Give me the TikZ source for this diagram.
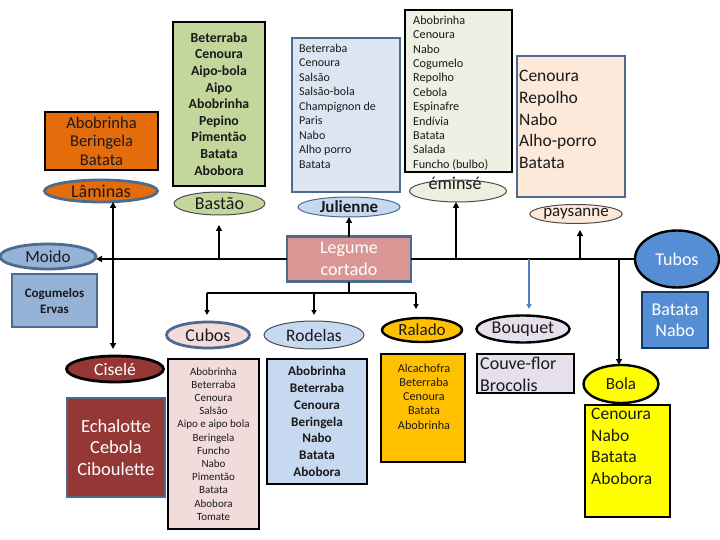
\documentclass[tikz,border=0pt]{standalone}
\usepackage{fontspec}
\setmainfont{Carlito}
\usetikzlibrary{arrows.meta,shapes.geometric}
\definecolor{txt}{HTML}{1A1A1A}
\definecolor{orangeC}{HTML}{E46C0A}
\definecolor{bordB}{HTML}{4F6A8F}
\definecolor{greenC}{HTML}{C3D69B}
\definecolor{julBox}{HTML}{DCE6F2}
\definecolor{julEl}{HTML}{C6D9F1}
\definecolor{emiBox}{HTML}{EEF0E3}
\definecolor{emiEl}{HTML}{EBF1DE}
\definecolor{payC}{HTML}{FDE9D9}
\definecolor{legC}{HTML}{D99694}
\definecolor{moiC}{HTML}{95B3D7}
\definecolor{tubC}{HTML}{558ED5}
\definecolor{navyB}{HTML}{17375E}
\definecolor{cubC}{HTML}{F2DCDB}
\definecolor{ralC}{HTML}{FFC000}
\definecolor{bouC}{HTML}{E6E0EC}
\definecolor{redC}{HTML}{953735}
\definecolor{bolaC}{HTML}{FFFF00}
\definecolor{steel}{HTML}{4F81BD}
\newcommand\myfs[2]{\fontsize{#1}{#2}\selectfont}
\begin{document}
\begin{tikzpicture}[x=1pt,y=-1pt,
  bx/.style={draw, anchor=north west, inner sep=0pt, outer sep=0pt, text=txt, align=center},
  el/.style={ellipse, draw, inner sep=0pt, outer sep=0pt, text=txt},
  thk/.style={line width=2.8pt},
  thn/.style={line width=1pt},
  ml/.style={line width=2.4pt, -{Triangle[length=6pt,width=6pt]}},
  ml0/.style={line width=2.4pt},
  sl/.style={line width=1.6pt, -{Triangle[length=5pt,width=5pt]}},
  sl0/.style={line width=1.6pt},
  lst/.style={inner sep=0pt, text=txt}
]
\useasboundingbox[fill=white] (0,0) rectangle (720,540);

% ---------- top row ----------
\node[bx, thk, fill=orangeC, minimum width=113, minimum height=58, font=\myfs{16.5}{18.5}] (orbox) at (45,112) {Abobrinha\\Beringela\\Batata};
\node[el, draw=bordB, thk, fill=orangeC, minimum width=113, minimum height=22, font=\myfs{18}{18}] (lam) at (101,191) {Lâminas};

\node[bx, thk, fill=greenC, minimum width=92, minimum height=164, font=\myfs{13.8}{16.6}\bfseries] (basbox) at (173,22) {Beterraba\\Cenoura\\Aipo-bola\\Aipo\\Abobrinha\\Pepino\\Pimentão\\Batata\\Abobora};
\node[el, thn, draw=black!70, fill=greenC, minimum width=91, minimum height=23, font=\myfs{18}{18}] (bas) at (219.5,203.5) {Bastão};

\node[bx, thk, draw=bordB, fill=julBox, minimum width=108, minimum height=154] (julbox) at (292,38) {};
\node[lst, anchor=west, align=left, font=\myfs{12}{14.5}] (jultxt) at (299,106) {Beterraba\\Cenoura\\Salsão\\Salsão-bola\\Champignon de\\Paris\\Nabo\\Alho porro\\Batata};
\node[el, thn, draw=bordB, fill=julEl, minimum width=102, minimum height=20, font=\myfs{17}{18}\bfseries] (jul) at (349,207) {Julienne};

\node[el, thn, draw=black!70, fill=emiEl, minimum width=97, minimum height=22] (emi) at (458,191) {};
\node[bx, thk, fill=emiBox, minimum width=107, minimum height=162] (emibox) at (405,10) {};
\node[lst, anchor=west, align=left, font=\myfs{12.2}{14.4}] (emitxt) at (413,93) {Abobrinha\\Cenoura\\Nabo\\Cogumelo\\Repolho\\Cebola\\Espinafre\\Endívia\\Batata\\Salada\\Funcho (bulbo)};
\node[lst, font=\myfs{18}{18}] (emilab) at (455,183) {éminsé};

\node[bx, thk, draw=bordB, fill=payC, minimum width=108, minimum height=141] (paybox) at (517,56) {};
\node[lst, anchor=west, align=left, font=\myfs{17.5}{21.8}] (paytxt) at (519,119.5) {Cenoura\\Repolho\\Nabo\\Alho-porro\\Batata};
\node[el, thn, draw=black!70, fill=payC, minimum width=91, minimum height=19, font=\myfs{17}{16}] (pay) at (576,214) {paysanne};

% ---------- middle ----------
\node[bx, thk, draw=bordB, fill=legC, text=white, minimum width=124, minimum height=45, font=\myfs{18}{22}] (leg) at (287,236.5) {Legume\\cortado};
\node[el, thk, draw=bordB, fill=moiC, minimum width=96, minimum height=25, font=\myfs{17}{16}] (moi) at (48,256.5) {Moido};
\node[el, line width=2.4pt, draw=black, fill=tubC, text=white, minimum width=84, minimum height=57, font=\myfs{18}{18}] (tub) at (677,259) {Tubos};
\node[bx, thk, draw=bordB, fill=moiC, minimum width=85, minimum height=53, font=\myfs{13}{16}\bfseries] (cog) at (12,274) {Cogumelos\\Ervas};
\node[bx, thk, draw=navyB, fill=tubC, text=white, minimum width=66, minimum height=56, font=\myfs{18}{21}] (batnab) at (642,292) {Batata\\Nabo};

\node[el, thk, draw=bordB, fill=cubC, minimum width=83, minimum height=26, font=\myfs{18}{18}] (cub) at (208,335) {Cubos};
\node[el, thn, draw=black!70, fill=julEl, minimum width=100, minimum height=28, font=\myfs{17.5}{18}] (rod) at (314,335) {Rodelas};
\node[el, line width=2.4pt, draw=black, fill=ralC, minimum width=80, minimum height=24, font=\myfs{17}{16}] (ral) at (422,330) {Ralado};
\node[el, line width=2.4pt, draw=black, fill=bouC, minimum width=93, minimum height=27, font=\myfs{18}{16}] (bou) at (523,329) {Bouquet};

% ---------- bottom ----------
\node[el, thk, draw=black, fill=redC, text=white, minimum width=97, minimum height=26, font=\myfs{17.5}{18}] (cis) at (115,369) {Ciselé};
\node[bx, thk, draw=bordB, fill=redC, text=white, minimum width=98, minimum height=99, font=\myfs{18.5}{21.5}] (ech) at (67,398) {Echalotte\\Cebola\\Ciboulette};
\node[bx, thk, fill=cubC, minimum width=91, minimum height=170, font=\myfs{11}{13.2}] (cubbox) at (168,359) {Abobrinha\\Beterraba\\Cenoura\\Salsão\\Aipo e aipo bola\\Beringela\\Funcho\\Nabo\\Pimentão\\Batata\\Abobora\\Tomate};
\node[bx, thk, fill=julEl, minimum width=100, minimum height=125, font=\myfs{13.2}{16.8}\bfseries] (rodbox) at (267,359) {Abobrinha\\Beterraba\\Cenoura\\Beringela\\Nabo\\Batata\\Abobora};
\node[bx, thk, fill=ralC, minimum width=84, minimum height=108] (ralbox) at (381,354) {};
\node[lst, align=center, font=\myfs{12.2}{14.2}] (raltxt) at (424,396.5) {Alcachofra\\Beterraba\\Cenoura\\Batata\\Abobrinha};
\node[bx, thk, fill=bouC, minimum width=97, minimum height=39] (boubox) at (477,354) {};
\node[lst, anchor=west, align=left, font=\myfs{18}{22}] (boutxt) at (480,374) {Couve-flor\\Brocolis};
\node[el, line width=2.4pt, draw=black, fill=bolaC, minimum width=75, minimum height=38, font=\myfs{17}{16}] (bola) at (621,384) {Bola};
\node[bx, thk, fill=bolaC, minimum width=85, minimum height=112] (bolabox) at (585,405) {};
\node[lst, anchor=west, align=left, font=\myfs{17.5}{21.7}] (bolatxt) at (591,446.5) {Cenoura\\Nabo\\Batata\\Abobora};

% ---------- connectors ----------
\coordinate (b1) at (113,259);
\coordinate (b2) at (219,259);
\coordinate (b3) at (456,259);
\coordinate (b4) at (529,259);
\coordinate (b5) at (580,259);
\coordinate (b6) at (619,259);
\coordinate (basT) at (219,225);
\coordinate (payT) at (580,230);
\coordinate (bouT) at (529,309);
\coordinate (cisT) at (113,349);

\draw[ml] (leg.west) -- (leg.west -| moi.east);
\draw[ml0] (leg.east) -- (leg.east -| tub.west);
\draw[ml] (b1) -- (b1 |- lam.south);
\draw[ml] (b1) -- (cisT);
\draw[ml] (b2) -- (basT);
\draw[ml] (leg.north) -- (leg.north |- jul.south);
\draw[ml] (b3) -- (b3 |- emi.south);
\draw[ml] (b5) -- (payT);
\draw[line width=1.4pt, draw=steel, -{Triangle[length=5pt,width=5pt]}] (b4) -- (bouT);
\draw[ml] (b6) -- (b6 |- bola.north);

\coordinate (lj) at (349,293);
\coordinate (lc1) at (207,293);
\coordinate (lc2) at (314,293);
\coordinate (lc3) at (416,293);
\draw[sl0] (leg.south) -- (lj);
\draw[sl0] (lc1) -- (lc3);
\draw[sl] (lc1) -- (207,315) coordinate (cubT);
\draw[sl] (lc2) -- (314,315) coordinate (rodT);
\draw[sl] (lc3) -- (416,309) coordinate (ralT);
\end{tikzpicture}
\end{document}
